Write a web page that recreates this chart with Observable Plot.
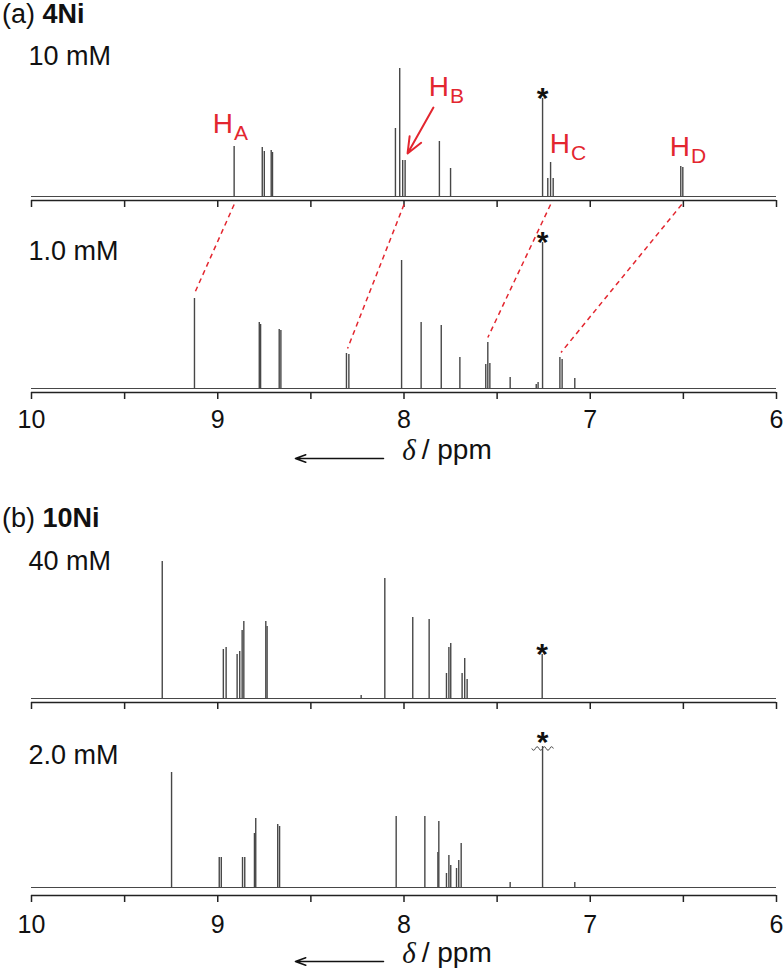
<!DOCTYPE html>
<html><head><meta charset="utf-8">
<script src="https://cdn.jsdelivr.net/npm/d3@7"></script>
<script src="https://cdn.jsdelivr.net/npm/@observablehq/plot@0.6"></script>
<style>
body{margin:0;background:#fff;font-family:"Liberation Sans",Arial,sans-serif;color:#111;}
#figure{width:784px;}
.title{font-size:27px;padding-left:2px;white-space:pre;}
#ta{height:28px;line-height:28px;}
#tb{height:36px;line-height:36px;}
svg{display:block;}
</style></head><body>
<div id="figure">
  <div class="title" id="ta">(a) <b>4Ni</b></div>
  <div id="pa"></div>
  <div class="title" id="tb">(b) <b>10Ni</b></div>
  <div id="pb"></div>
</div>
<script>
// ---- axis ----
const ticks = [10, 9.5, 9, 8.5, 8, 7.5, 7, 6.5, 6];
const tickLabels = [10, 9, 8, 7, 6];

// ---- peak lists: [δ / ppm, intensity (arb.)] ----
const peaks4Ni_10mM = [
  [8.912, 50], [8.761, 49], [8.750, 45], [8.713, 46], [8.706, 44],
  [8.046, 68], [8.023, 128], [8.007, 36], [7.994, 36],
  [7.810, 55], [7.750, 28], [7.256, 98],
  [7.228, 18], [7.213, 34], [7.199, 18],
  [6.514, 30], [6.503, 29]
];
const peaks4Ni_1mM = [
  [9.125, 90], [8.777, 66], [8.770, 64], [8.670, 59], [8.661, 58],
  [8.309, 35], [8.296, 34], [8.013, 128], [7.908, 66], [7.800, 63],
  [7.700, 31], [7.561, 24], [7.550, 46], [7.539, 25], [7.430, 11],
  [7.290, 4], [7.280, 6], [7.256, 146], [7.163, 31], [7.151, 29], [7.083, 10]
];
const peaks10Ni_40mM = [
  [9.298, 137], [8.970, 49], [8.955, 51],
  [8.896, 44], [8.882, 47], [8.869, 68], [8.860, 77],
  [8.742, 77], [8.735, 72], [8.230, 3], [8.103, 120],
  [7.953, 81], [7.865, 79],
  [7.772, 25], [7.759, 51], [7.749, 55],
  [7.688, 25], [7.674, 40], [7.661, 19], [7.258, 44]
];
const peaks10Ni_2mM = [
  [9.248, 115], [8.992, 30], [8.981, 30], [8.867, 30], [8.855, 30],
  [8.803, 54], [8.796, 69], [8.678, 63], [8.668, 61],
  [8.042, 71], [7.888, 71], [7.818, 35], [7.813, 66],
  [7.772, 14], [7.759, 32], [7.749, 22], [7.718, 19], [7.706, 27], [7.693, 44],
  [7.430, 5], [7.256, 141], [7.083, 5]
];
const solventPpm = 7.256; // CHCl3 (*)

// ---- assignments HA–HD (4Ni) ----
const assignLetters = ["A", "B", "C", "D"];
const assignPpm10mM = [8.912, 8.000, 7.213, 6.509];
const assignPpm1mM = [9.125, 8.303, 7.550, 7.157];
const assignHeight1mM = [90, 35, 46, 31];
// label anchors (δ, height above 10 mM baseline)
const labelPpm = [8.918, 7.758, 7.109, 6.464];
const labelHeight = [72, 109, 52, 49];
// arrow to HB (δ, height above 10 mM baseline)
const arrowHB = {x1: 7.842, y1: 89, x2: 7.981, y2: 43};
// direction arrow under axis (δ)
const dirArrow = {from: 8.11, to: 8.583};
const axisLabelPpm = 7.905;

const INK = "#474747";
const AX = "#222";
const RED = "#e3262f";
const FONT = "Liberation Sans, Arial, sans-serif";

// axis-break glyph (wavy line) used as a dot symbol
const wavy = {
  draw(context) {
    const seg = 3.6, amp = 2.2, n = 6, x0 = -seg * n / 2;
    context.moveTo(x0, 0);
    for (let i = 0; i < n; i++) {
      const xa = x0 + i * seg;
      context.quadraticCurveTo(xa + seg / 2, (i % 2 ? -amp : amp) * 1.6, xa + seg, 0);
    }
  }
};

function panel({height, yDomain, spectra, upperAxisY, lowerAxisY, tickLabelY, labelY, arrowY, extra = []}) {
  const marks = [];
  for (const s of spectra) {
    marks.push(Plot.ruleY([s.base], {x1: 10, x2: 6, stroke: INK, strokeWidth: 1}));
    marks.push(Plot.ruleX(s.peaks, {x: d => d[0], y1: s.base, y2: d => s.base + d[1], stroke: INK, strokeWidth: 1.4}));
    marks.push(Plot.text([s.label], {x: 10, y: s.base + s.labelH, text: d => d, textAnchor: "start", dx: -3, fontSize: 27, fill: "#111"}));
    const star = s.peaks.find(d => Math.abs(d[0] - solventPpm) < 0.004);
    marks.push(Plot.text([star], {x: d => d[0], y: d => s.base + d[1], text: () => "*", fontSize: 30, fontWeight: "bold", fill: "#111", dy: s.starDy ?? 0}));
    if (s.broken) {
      marks.push(Plot.dot([star], {x: d => d[0], y: d => s.base + d[1] - 2, symbol: wavy, r: 5, fill: "none", stroke: INK, strokeWidth: 1}));
    }
  }
  for (const ay of [upperAxisY, lowerAxisY]) {
    marks.push(Plot.ruleY([ay], {x1: 10, x2: 6, stroke: AX, strokeWidth: 1.5}));
    marks.push(Plot.ruleX(ticks, {x: d => d, y1: ay, y2: ay - 7, stroke: AX, strokeWidth: 1.5}));
  }
  marks.push(Plot.text(tickLabels, {x: d => d, y: tickLabelY, text: d => String(d), fontSize: 25, fill: "#111"}));
  marks.push(Plot.text(["δ"], {x: axisLabelPpm, y: labelY, text: d => d, textAnchor: "end", fontSize: 29, fontStyle: "italic", fontFamily: "Liberation Serif, Times New Roman, serif", fill: "#111", dx: -6}));
  marks.push(Plot.text(["/ ppm"], {x: axisLabelPpm, y: labelY, text: d => d, textAnchor: "start", fontSize: 28, fill: "#111"}));
  marks.push(Plot.arrow([dirArrow], {x1: d => d.from, x2: d => d.to, y1: arrowY, y2: arrowY, stroke: "#111", strokeWidth: 1.5, headLength: 11, headAngle: 40}));
  marks.push(...extra);
  return Plot.plot({
    width: 784, height,
    marginLeft: 31, marginRight: 8, marginTop: 0, marginBottom: 0,
    x: {domain: [10, 6], axis: null},
    y: {domain: yDomain, axis: null},
    style: {fontFamily: FONT, background: "white", overflow: "visible"},
    marks
  });
}

// ---- panel (a) ----
const upperA = 192;
const assignments = assignLetters.map((L, i) => ({
  L, up: assignPpm10mM[i], low: assignPpm1mM[i], h: assignHeight1mM[i], lx: labelPpm[i], ly: labelHeight[i]
}));
const extraA = [
  Plot.link(assignments, {x1: d => d.up, y1: upperA - 8, x2: d => d.low, y2: d => d.h + 5, stroke: RED, strokeWidth: 1.5, strokeDasharray: "5,4"}),
  Plot.text(assignments, {x: d => d.lx, y: d => upperA + d.ly, text: () => "H", textAnchor: "end", fontSize: 28, fill: RED}),
  Plot.text(assignments, {x: d => d.lx, y: d => upperA + d.ly, text: d => d.L, textAnchor: "start", fontSize: 21, fill: RED, dy: 9, dx: 1}),
  Plot.arrow([arrowHB], {x1: d => d.x1, y1: d => upperA + d.y1, x2: d => d.x2, y2: d => upperA + d.y2, stroke: RED, strokeWidth: 2, headLength: 13, headAngle: 45})
];
document.getElementById("pa").append(panel({
  height: 472, yDomain: [-112, 360],
  spectra: [
    {peaks: peaks4Ni_10mM, base: upperA, label: "10 mM", labelH: 140},
    {peaks: peaks4Ni_1mM, base: 0, label: "1.0 mM", labelH: 137}
  ],
  upperAxisY: upperA - 4, lowerAxisY: -4, tickLabelY: -31, labelY: -62, arrowY: -70,
  extra: extraA
}));

// ---- panel (b) ----
const upperB = 189;
document.getElementById("pb").append(panel({
  height: 438, yDomain: [-87, 351],
  spectra: [
    {peaks: peaks10Ni_40mM, base: upperB, label: "40 mM", labelH: 137},
    {peaks: peaks10Ni_2mM, base: 0, label: "2.0 mM", labelH: 132, broken: true, starDy: -4}
  ],
  upperAxisY: upperB - 4, lowerAxisY: -8, tickLabelY: -37, labelY: -66, arrowY: -74
}));
</script>
</body></html>
